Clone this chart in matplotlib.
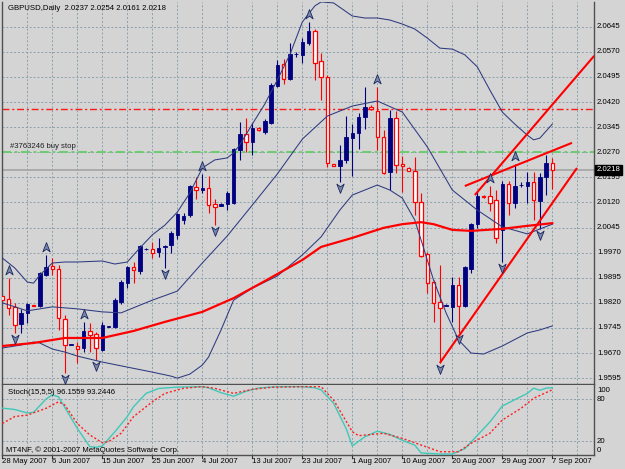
import matplotlib
matplotlib.use("Agg")
import matplotlib.pyplot as plt
import matplotlib.transforms as mtransforms
from matplotlib.path import Path
import numpy as np

plt.rcParams['font.family'] = ['Liberation Sans', 'DejaVu Sans']

# ---- data (GBPUSD daily, 28 May - 7 Sep 2007, with sunday bars) ----
opens = [1.9840, 1.9831, 1.9808, 1.9757, 1.9790, 1.9814, 1.9811, 1.9903, 1.9930, 1.9921,
         1.9772, 1.9695, 1.9691, 1.9685, 1.9736, 1.9727, 1.9679, 1.9749, 1.9748, 1.9822,
         1.9879, 1.9927, 1.9915, 1.9980, 1.9981, 1.9972, 1.9987, 1.9993, 2.0023, 2.0067,
         2.0082, 2.0166, 2.0157, 2.0163, 2.0115, 2.0109, 2.0115, 2.0118, 2.0277, 2.0324,
         2.0301, 2.0342, 2.0330, 2.0357, 2.0468, 2.0534, 2.0489, 2.0562, 2.0561, 2.0596,
         2.0632, 2.0543, 2.0495, 2.0235, 2.0229, 2.0247, 2.0312, 2.0327, 2.0375, 2.0404,
         2.0393, 2.0315, 2.0211, 2.0372, 2.0235, 2.0224, 2.0214, 2.0121, 1.9966, 1.9882,
         1.9822, 1.9812, 1.9808, 1.9873, 1.9811, 1.9921, 2.0055, 2.0139, 2.0139, 2.0127,
         2.0038, 2.0175, 2.0118, 2.0171, 2.0169, 2.0181, 2.0124, 2.0196, 2.0237]
highs = [1.9849, 1.9894, 1.9820, 1.9802, 1.9820, 1.9815, 1.9912, 1.9963, 1.9954, 1.9933,
         1.9784, 1.9698, 1.9703, 1.9763, 1.9760, 1.9733, 1.9763, 1.9752, 1.9834, 1.9888,
         1.9930, 1.9942, 1.9993, 1.9983, 2.0002, 2.0014, 1.9993, 2.0035, 2.0088, 2.0088,
         2.0172, 2.0196, 2.0205, 2.0199, 2.0130, 2.0117, 2.0154, 2.0283, 2.0360, 2.0372,
         2.0357, 2.0345, 2.0369, 2.0477, 2.0546, 2.0549, 2.0596, 2.0569, 2.0611, 2.0659,
         2.0638, 2.0567, 2.0501, 2.0236, 2.0292, 2.0378, 2.0354, 2.0387, 2.0465, 2.0411,
         2.0465, 2.0336, 2.0396, 2.0393, 2.0259, 2.0226, 2.0256, 2.0148, 1.9972, 1.9888,
         1.9933, 1.9817, 1.9897, 1.9897, 1.9930, 2.0058, 2.0151, 2.0142, 2.0169, 2.0157,
         2.0184, 2.0184, 2.0235, 2.0181, 2.0211, 2.0211, 2.0208, 2.0262, 2.0254]
lows = [1.9822, 1.9784, 1.9730, 1.9730, 1.9760, 1.9811, 1.9808, 1.9900, 1.9903, 1.9739,
        1.9610, 1.9694, 1.9640, 1.9673, 1.9673, 1.9649, 1.9676, 1.9748, 1.9745, 1.9817,
        1.9864, 1.9879, 1.9906, 1.9978, 1.9954, 1.9957, 1.9924, 1.9969, 2.0011, 2.0055,
        2.0076, 2.0130, 2.0148, 2.0088, 2.0052, 2.0108, 2.0097, 2.0115, 2.0247, 2.0271,
        2.0262, 2.0333, 2.0324, 2.0354, 2.0465, 2.0474, 2.0486, 2.0555, 2.0537, 2.0590,
        2.0486, 2.0426, 2.0226, 2.0229, 2.0181, 2.0238, 2.0199, 2.0280, 2.0339, 2.0396,
        2.0277, 2.0205, 2.0157, 2.0208, 2.0151, 2.0214, 2.0082, 1.9957, 1.9849, 1.9763,
        1.9640, 1.9811, 1.9763, 1.9730, 1.9808, 1.9909, 2.0044, 2.0133, 2.0094, 1.9999,
        1.9942, 2.0082, 2.0103, 2.0166, 2.0118, 2.0067, 2.0041, 2.0142, 2.0161]
closes = [1.9828, 1.9805, 1.9754, 1.9790, 1.9817, 1.9812, 1.9909, 1.9927, 1.9921, 1.9775,
          1.9694, 1.9697, 1.9682, 1.9736, 1.9724, 1.9685, 1.9754, 1.9751, 1.9828, 1.9882,
          1.9927, 1.9918, 1.9990, 1.9981, 1.9969, 1.9984, 1.9990, 2.0029, 2.0085, 2.0079,
          2.0169, 2.0157, 2.0163, 2.0112, 2.0106, 2.0114, 2.0148, 2.0280, 2.0324, 2.0301,
          2.0342, 2.0336, 2.0363, 2.0471, 2.0531, 2.0489, 2.0564, 2.0564, 2.0599, 2.0632,
          2.0537, 2.0495, 2.0238, 2.0230, 2.0247, 2.0315, 2.0327, 2.0375, 2.0405, 2.0399,
          2.0315, 2.0208, 2.0372, 2.0232, 2.0229, 2.0215, 2.0121, 1.9960, 1.9879, 1.9820,
          1.9805, 1.9814, 1.9873, 1.9811, 1.9926, 2.0055, 2.0139, 2.0135, 2.0118, 2.0014,
          2.0175, 2.0118, 2.0169, 2.0172, 2.0181, 2.0127, 2.0196, 2.0238, 2.0218]

# bollinger bands (read at sample bars)
bb_up_bars = [0, 2, 4, 5, 6, 8, 10, 12, 16, 18, 20, 22, 24, 26, 28, 30, 32, 34, 36, 37, 38, 40, 42, 44,
              46, 48, 50, 51, 53, 56, 58, 60, 62, 64, 66, 68, 70, 72, 74, 76, 78, 80, 82, 84, 85, 86, 88]
bb_up = [1.9954, 1.9924, 1.9882, 1.9879, 1.9903, 1.9939, 1.9942, 1.9942, 1.9945, 1.9936, 1.9942, 1.9984,
         2.0023, 2.0052, 2.0091, 2.0148, 2.0223, 2.0247, 2.0253, 2.0268, 2.0292, 2.0354, 2.0414, 2.0486,
         2.0561, 2.0659, 2.0707, 2.0719, 2.0716, 2.0677, 2.0671, 2.0671, 2.0665, 2.0653, 2.0638, 2.0611,
         2.0581, 2.0578, 2.0561, 2.0525, 2.0456, 2.0390, 2.0354, 2.0321, 2.0307, 2.0312, 2.0354]
bb_mid_bars = [0, 4, 8, 12, 16, 19, 24, 28, 32, 36, 40, 44, 48, 52, 56, 60, 64, 68, 72, 76, 80, 84, 88]
bb_mid = [1.9820, 1.9796, 1.9808, 1.9802, 1.9793, 1.9790, 1.9828, 1.9855, 1.9939, 2.0020, 2.0112, 2.0205,
          2.0309, 2.0378, 2.0408, 2.0423, 2.0390, 2.0286, 2.0157, 2.0097, 2.0047, 2.0026, 2.0055]
bb_lo_bars = [0, 3, 5, 6, 8, 10, 12, 16, 20, 24, 27, 28, 30, 32, 33, 35, 37, 40, 44, 48, 51, 54, 56, 58,
              60, 62, 64, 66, 67, 69, 71, 73, 75, 77, 80, 84, 86, 88]
bb_lo = [1.9685, 1.9694, 1.9703, 1.9700, 1.9682, 1.9673, 1.9661, 1.9643, 1.9628, 1.9613, 1.9601, 1.9595,
         1.9607, 1.9634, 1.9658, 1.9739, 1.9828, 1.9864, 1.9900, 1.9963, 2.0017, 2.0097, 2.0142, 2.0157,
         2.0172, 2.0157, 2.0133, 2.0067, 2.0008, 1.9888, 1.9790, 1.9709, 1.9670, 1.9667, 1.9691, 1.9730,
         1.9739, 1.9751]

# red moving average
ma_bars = [0, 5, 10, 16, 21, 26, 32, 37, 42, 48, 51, 56, 61, 64, 67, 69, 72, 75, 80, 84, 88]
ma_vals = [1.9691, 1.9700, 1.9715, 1.9715, 1.9736, 1.9763, 1.9793, 1.9834, 1.9885, 1.9948, 1.9987,
           2.0014, 2.0044, 2.0055, 2.0061, 2.0055, 2.0038, 2.0035, 2.0041, 2.0050, 2.0058]

# fractals
up_fractals = [1, 7, 13, 32, 49, 60, 78, 82]
down_fractals = [2, 10, 15, 26, 34, 54, 70, 73, 80, 86]

# trend lines (bar, price) pairs
trend_lines = [((70.0, 1.9640), (91.95, 2.0223)),
               ((75.6, 2.0142), (94.7, 2.0558)),
               ((74.0, 2.0169), (91.15, 2.0298))]

buy_stop = 2.0270
red_level = 2.0400

# stochastic (15,5,5)
st_main_bars = [0, 2, 4, 5, 7, 8, 9, 10, 12, 14, 15, 16, 18, 20, 21, 23, 25, 28, 32, 33, 35, 37, 39, 41,
                44, 48, 50, 51, 53, 55, 56, 58, 60, 62, 64, 66, 67, 70, 72, 74, 76, 78, 80, 82, 84, 85,
                86, 87, 88]
st_main = [67, 65, 60, 61, 80, 86, 83, 68, 38, 12, 11, 13, 33, 55, 69, 88, 95, 97, 97.6, 96, 89, 84, 91,
           95.7, 97.6, 97.6, 96, 93, 74, 38, 13, 26, 34, 29.5, 21, 14, 3, 1.4, 1.4, 9, 28, 47, 70, 79,
           88, 95.5, 92.5, 95.5, 96.2]
st_sig_bars = [0, 2, 4, 7, 9, 10, 12, 14, 16, 17, 19, 21, 24, 26, 29, 32, 34, 37, 40, 43, 48, 51, 53, 56,
               57, 61, 64, 67, 70, 73, 75, 78, 80, 83, 85, 88]
st_sig = [45, 55, 57, 66.7, 76, 71.4, 45, 28.6, 17.6, 19, 31, 54.8, 76, 88, 95.3, 97.6, 95.3, 88, 93.8,
          96.7, 97.6, 97.6, 78.6, 33.3, 27.6, 31, 23.8, 14.3, 4.7, 4.7, 16.7, 31, 50, 66.7, 81, 93.2]

price_levels = [1.9595, 1.9670, 1.9745, 1.9820, 1.9895, 1.9970, 2.0045, 2.0120, 2.0195, 2.0270,
                2.0345, 2.0420, 2.0495, 2.0570, 2.0645]
date_bars = [0, 8, 16, 24, 32, 40, 48, 56, 64, 72, 80, 88]
date_labels = ['28 May 2007', '6 Jun 2007', '15 Jun 2007', '25 Jun 2007', '4 Jul 2007', '13 Jul 2007',
               '23 Jul 2007', '1 Aug 2007', '10 Aug 2007', '20 Aug 2007', '29 Aug 2007', '7 Sep 2007']

# ---- figure ----
W, H = 625, 469
bg = '#D4D4D4'
gridc = '#8AA0AC'
navy = '#000080'
bandc = '#2E3A80'
fs = 5.6

fig = plt.figure(figsize=(W / 100, H / 100), dpi=100, facecolor=bg)
ax = fig.add_axes([2 / W, 1 - 384 / H, 592 / W, 382 / H], facecolor=bg)
ax2 = fig.add_axes([2 / W, 1 - 455 / H, 592 / W, 70 / H], facecolor=bg)

xlim = (-0.05, 94.67)
ax.set_xlim(*xlim)
ax.set_ylim(1.95775, 2.07188)
ax2.set_xlim(*xlim)
ax2.set_ylim(0, 100)

for a in (ax, ax2):
    a.set_xticks([])
    a.set_yticks([])
    for s in a.spines.values():
        s.set_color('#505050')
        s.set_linewidth(1.0)
    a.spines['top'].set_visible(False)
    for b in range(4, 95, 4):
        a.axvline(b, color=gridc, lw=0.7, dashes=(2, 2), zorder=0)

for lv in price_levels:
    ax.axhline(lv, color=gridc, lw=0.7, dashes=(2, 2), zorder=0)
for lv in (20, 80):
    ax2.axhline(lv, color=gridc, lw=0.7, dashes=(2, 2), zorder=0)

# horizontal objects
ax.axhline(closes[-1], color='#A0A0A0', lw=1.1, zorder=1)
ax.axhline(red_level, color='#FF1A1A', lw=1.0, dashes=(5, 2, 1.5, 2), zorder=1)
ax.axhline(buy_stop, color='#66CC66', lw=1.3, dashes=(5, 2, 1.5, 2), zorder=1)
ax.text(8 / 592, buy_stop + 0.0008, '#3763246 buy stop', transform=ax.get_yaxis_transform(),
        fontsize=fs, color='#202020', va='bottom', ha='left')

# candles
x = np.arange(len(opens))
o = np.array(opens)
c = np.array(closes)
h = np.array(highs)
l = np.array(lows)
up = c >= o
wick_col = np.where(up, navy, '#FF0000')
ax.vlines(x, l, h, colors=wick_col, lw=0.8, zorder=2)
body_h = np.maximum(np.abs(c - o), 0.00004)
ax.bar(x[up], body_h[up], bottom=np.minimum(o, c)[up], width=0.56, color=navy,
       edgecolor=navy, lw=0.6, zorder=3)
ax.bar(x[~up], body_h[~up], bottom=np.minimum(o, c)[~up], width=0.56, color='white',
       edgecolor='#FF0000', lw=0.9, zorder=3)

# indicators
ax.plot(bb_up_bars, bb_up, color=bandc, lw=0.75, zorder=4)
ax.plot(bb_mid_bars, bb_mid, color=bandc, lw=0.75, zorder=4)
ax.plot(bb_lo_bars, bb_lo, color=bandc, lw=0.75, zorder=4)
ax.plot(ma_bars, ma_vals, color='#FF0000', lw=1.6, zorder=5)

for (x0, y0), (x1, y1) in trend_lines:
    ax.plot([x0, x1], [y0, y1], color='#FF0000', lw=1.5, zorder=6, solid_capstyle='butt')

# fractal arrows
arr = Path([(0, 1), (0.75, -0.9), (0, -0.35), (-0.75, -0.9), (0, 1)],
           [Path.MOVETO, Path.LINETO, Path.LINETO, Path.LINETO, Path.CLOSEPOLY])
arr_dn = Path(arr.vertices * [1, -1], arr.codes)
off_up = ax.transData + mtransforms.ScaledTranslation(0, 8 / 100, fig.dpi_scale_trans)
off_dn = ax.transData + mtransforms.ScaledTranslation(0, -6 / 100, fig.dpi_scale_trans)
ax.plot(up_fractals, [highs[i] for i in up_fractals], ls='none', marker=arr, ms=7,
        mfc='#7888A8', mec='#1A2660', mew=0.6, transform=off_up, zorder=7)
ax.plot(down_fractals, [lows[i] for i in down_fractals], ls='none', marker=arr_dn, ms=7,
        mfc='#7888A8', mec='#1A2660', mew=0.6, transform=off_dn, zorder=7)

# texts on main panel
ax.text(6 / 592, 1 - 6 / 382, 'GBPUSD,Daily  2.0237 2.0254 2.0161 2.0218', transform=ax.transAxes,
        fontsize=fs, color='black', va='center', ha='left')

ytr = ax.get_yaxis_transform()
for lv in price_levels:
    ax.text(1 + 3 / 592, lv, f'{lv:.4f}', transform=ytr, fontsize=fs, color='black',
            va='center', ha='left', clip_on=False)
ax.text(1 + 3 / 592, closes[-1], f'{closes[-1]:.4f}', transform=ytr, fontsize=fs, color='white',
        va='center', ha='left', clip_on=False, zorder=10,
        bbox=dict(boxstyle='square,pad=0.2', facecolor='black', edgecolor='black'))

# stochastic panel
ax2.plot(st_main_bars, st_main, color='#40C8B8', lw=1.0, zorder=3)
ax2.plot(st_sig_bars, st_sig, color='#FF2020', lw=1.0, ls=(0, (1.5, 1.5)), zorder=3)
ax2.text(6 / 592, 0.9, 'Stoch(15,5,5) 96.1559 93.2446', transform=ax2.transAxes, fontsize=fs,
         color='black', va='center', ha='left')
ax2.text(4 / 592, 0.07, 'MT4NF, \u00a9 2001-2007 MetaQuotes Software Corp.', transform=ax2.transAxes,
         fontsize=fs, color='black', va='center', ha='left')
for val, ypix in ((100, 390), (80, 399), (20, 441), (0, 450)):
    ax2.text(1 + 3 / 592, (455 - ypix) / 70, str(val), transform=ax2.transAxes, fontsize=fs,
             color='black', va='center', ha='left', clip_on=False)

xtr = ax2.get_xaxis_transform()
for b, lab in zip(date_bars, date_labels):
    ax2.plot([b, b], [0, -3 / 70], color='#303030', lw=0.8, transform=xtr, clip_on=False)
    ax2.text(b, -6 / 70, lab, transform=xtr, fontsize=fs, color='black', va='center', ha='left',
             clip_on=False)

fig.savefig('out.png', dpi=100, facecolor=bg)
